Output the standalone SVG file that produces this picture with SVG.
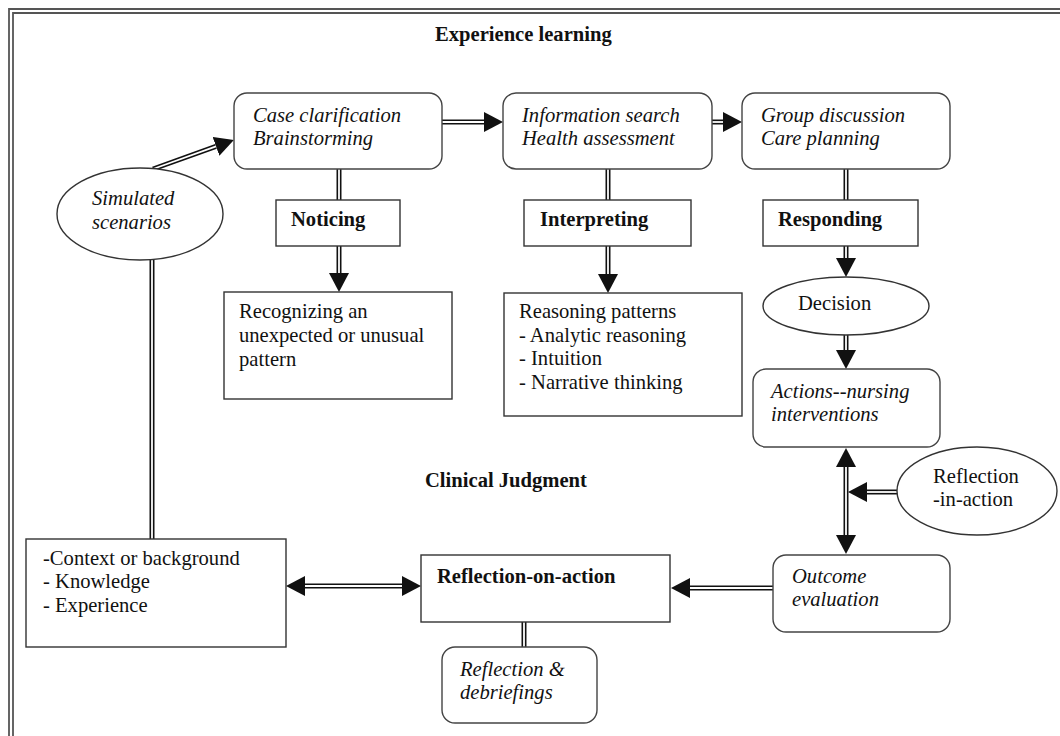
<svg xmlns="http://www.w3.org/2000/svg" width="1060" height="736" viewBox="0 0 1060 736">
<style>
.bx{fill:#fff;stroke:#333;stroke-width:1.4}
.rb{fill:#fff;stroke:#444;stroke-width:1.4}
.t{font-family:"Liberation Serif",serif;font-size:20.6px;fill:#111}
.it{font-style:italic}
.b{font-weight:bold}
.o{fill:none;stroke:#111;stroke-width:5}
.i{fill:none;stroke:#fff;stroke-width:1.8}
.bd{fill:none;stroke:#555;stroke-width:1.8}
</style>
<defs>
<marker id="ah" markerUnits="userSpaceOnUse" markerWidth="19" markerHeight="20" viewBox="0 0 19 20" refX="0" refY="10" orient="auto-start-reverse"><path d="M0,0 L19,10 L0,20 z" fill="#111"/></marker>
</defs>
<rect x="0" y="0" width="1060" height="736" fill="#fff"/>
<path class="bd" d="M9,736 V9 H1060"/>
<path class="bd" d="M13,736 V13 H1060"/>

<text class="t b" x="435" y="41">Experience learning</text>
<text class="t b" x="425" y="487">Clinical Judgment</text>

<g id="connectors">
<path class="o" d="M153,169 L216,146.4" marker-end="url(#ah)"/><path class="i" d="M153,169 L216,146.4"/>
<path class="o" d="M442,122 H484" marker-end="url(#ah)"/><path class="i" d="M442,122 H484"/>
<path class="o" d="M712,122 H723" marker-end="url(#ah)"/><path class="i" d="M712,122 H723"/>
<path class="o" d="M339,169 V200"/><path class="i" d="M339,169 V200"/>
<path class="o" d="M339,246 V273" marker-end="url(#ah)"/><path class="i" d="M339,246 V273"/>
<path class="o" d="M608,169 V200"/><path class="i" d="M608,169 V200"/>
<path class="o" d="M608,246 V274" marker-end="url(#ah)"/><path class="i" d="M608,246 V274"/>
<path class="o" d="M846,169 V200"/><path class="i" d="M846,169 V200"/>
<path class="o" d="M846,246 V258" marker-end="url(#ah)"/><path class="i" d="M846,246 V258"/>
<path class="o" d="M846,335 V350" marker-end="url(#ah)"/><path class="i" d="M846,335 V350"/>
<path class="o" d="M846,467 V535" marker-start="url(#ah)" marker-end="url(#ah)"/><path class="i" d="M846,467 V535"/>
<path class="o" d="M897,492 H867" marker-end="url(#ah)"/><path class="i" d="M897,492 H867"/>
<path class="o" d="M773,588 H690" marker-end="url(#ah)"/><path class="i" d="M773,588 H690"/>
<path class="o" d="M305,586 H402" marker-start="url(#ah)" marker-end="url(#ah)"/><path class="i" d="M305,586 H402"/>
<path class="o" d="M524,622 V647"/><path class="i" d="M524,622 V647"/>
<path class="o" d="M152,539 V260"/><path class="i" d="M152,539 V260"/>
</g>

<g id="simulated">
<ellipse class="bx" cx="140" cy="214" rx="83" ry="46"/>
<text class="t it" x="92" y="205">Simulated</text>
<text class="t it" x="92" y="229">scenarios</text>
</g>
<g id="case">
<rect class="rb" x="234" y="93" width="208" height="76" rx="13"/>
<text class="t it" x="253" y="122">Case clarification</text>
<text class="t it" x="253" y="145">Brainstorming</text>
</g>
<g id="info">
<rect class="rb" x="503" y="93" width="209" height="76" rx="13"/>
<text class="t it" x="522" y="122">Information search</text>
<text class="t it" x="522" y="145">Health assessment</text>
</g>
<g id="group">
<rect class="rb" x="742" y="93" width="208" height="76" rx="13"/>
<text class="t it" x="761" y="122">Group discussion</text>
<text class="t it" x="761" y="145">Care planning</text>
</g>
<g id="noticing">
<rect class="bx" x="276" y="200" width="124" height="46"/>
<text class="t b" x="291" y="226">Noticing</text>
</g>
<g id="interpreting">
<rect class="bx" x="524" y="200" width="167" height="46"/>
<text class="t b" x="540" y="226">Interpreting</text>
</g>
<g id="responding">
<rect class="bx" x="763" y="200" width="155" height="46"/>
<text class="t b" x="778" y="226">Responding</text>
</g>
<g id="recognizing">
<rect class="bx" x="224" y="292" width="228" height="107"/>
<text class="t" x="239" y="318">Recognizing an</text>
<text class="t" x="239" y="342">unexpected or unusual</text>
<text class="t" x="239" y="366">pattern</text>
</g>
<g id="reasoning">
<rect class="bx" x="504" y="293" width="238" height="123"/>
<text class="t" x="519" y="318">Reasoning patterns</text>
<text class="t" x="519" y="342">- Analytic reasoning</text>
<text class="t" x="519" y="365">- Intuition</text>
<text class="t" x="519" y="389">- Narrative thinking</text>
</g>
<g id="decision">
<ellipse class="bx" cx="846" cy="306" rx="83" ry="29"/>
<text class="t" x="798" y="310">Decision</text>
</g>
<g id="actions">
<rect class="rb" x="753" y="369" width="187" height="78" rx="13"/>
<text class="t it" x="771" y="398">Actions--nursing</text>
<text class="t it" x="771" y="421">interventions</text>
</g>
<g id="reflection-in-action">
<ellipse class="bx" cx="977" cy="491" rx="80" ry="44"/>
<text class="t" x="933" y="483">Reflection</text>
<text class="t" x="933" y="506">-in-action</text>
</g>
<g id="outcome">
<rect class="rb" x="773" y="555" width="177" height="77" rx="13"/>
<text class="t it" x="792" y="583">Outcome</text>
<text class="t it" x="792" y="606">evaluation</text>
</g>
<g id="reflection-on-action">
<rect class="bx" x="421" y="555" width="249" height="67"/>
<text class="t b" x="437" y="583">Reflection-on-action</text>
</g>
<g id="debriefings">
<rect class="rb" x="442" y="647" width="155" height="76" rx="13"/>
<text class="t it" x="460" y="676">Reflection &amp;</text>
<text class="t it" x="460" y="699">debriefings</text>
</g>
<g id="context">
<rect class="bx" x="26" y="539" width="260" height="108"/>
<text class="t" x="43" y="565">-Context or background</text>
<text class="t" x="43" y="588">- Knowledge</text>
<text class="t" x="43" y="612">- Experience</text>
</g>
</svg>
